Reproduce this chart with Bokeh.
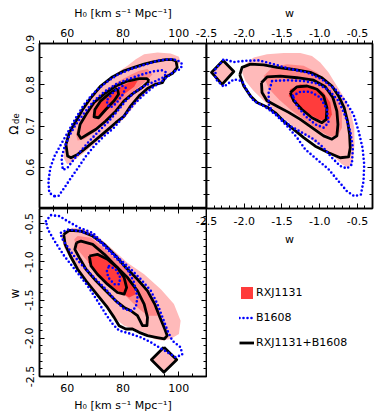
from math import pi
from bokeh.plotting import figure
from bokeh.models import (Range1d, LinearAxis, FixedTicker, Label, Legend, LegendItem,
                          PrintfTickFormatter, BasicTickFormatter)
from bokeh.layouts import row, column
from bokeh.embed import file_html
from bokeh.resources import INLINE

FONT = "DejaVu Sans"
RED_FILLS = ["#FFBABA", "#FF8787", "#FF3C3C"]
BLUE = "#0000FF"

# ---------------- axes ----------------
H0_RANGE = (50, 110)
OM_RANGE = (0.5, 0.9)
W_RANGE = (-2.5, -0.3)
H0_TICKS = [60, 80, 100]
H0_MINOR = [50, 55, 65, 70, 75, 85, 90, 95, 105, 110]
OM_TICKS = [0.6, 0.7, 0.8, 0.9]
OM_MINOR = [0.5, 0.5333, 0.5667, 0.6333, 0.6667, 0.7333, 0.7667, 0.8333, 0.8667]
W_TICKS = [-2.5, -2.0, -1.5, -1.0, -0.5]
W_MINOR = [-2.4, -2.3, -2.2, -2.1, -1.9, -1.8, -1.7, -1.6, -1.4, -1.3, -1.2, -1.1,
           -0.9, -0.8, -0.7, -0.6, -0.4, -0.3]
H0_TITLE = "H\u2080 [km s\u207b\u00b9 Mpc\u207b\u00b9]"
OM_TITLE = "\u03a9"
OM_TITLE_SUB = "de"
W_TITLE = "w"
LEGEND_LABELS = ["RXJ1131", "B1608", "RXJ1131+B1608"]

# ---------------- H0 vs Omega_de (top left) ----------------
TL_RED_OUTER = [(87.6, 0.874), (92.4, 0.878), (97.1, 0.876), (100.1, 0.868), (100.7, 0.854), (98.9, 0.842),
                (95.9, 0.817), (92.4, 0.800), (89.4, 0.787), (86.4, 0.767), (83.4, 0.743), (80.6, 0.719),
                (77.4, 0.702), (73.5, 0.678), (69.9, 0.657), (66.7, 0.639), (63.7, 0.623), (61.3, 0.611),
                (59.9, 0.607), (58.7, 0.623), (58.9, 0.655), (60.1, 0.680), (61.9, 0.704), (64.3, 0.732),
                (67.3, 0.761), (70.8, 0.789), (74.4, 0.809), (78.0, 0.830), (81.6, 0.846), (84.6, 0.862)]
TL_RED_MID = [(88.8, 0.838), (90.6, 0.825), (87.6, 0.805), (84.0, 0.785), (80.4, 0.761), (76.8, 0.732),
              (73.3, 0.704), (69.6, 0.684), (66.1, 0.668), (63.7, 0.665), (63.1, 0.680), (64.3, 0.708),
              (67.3, 0.740), (70.8, 0.769), (74.4, 0.791), (78.6, 0.809), (82.8, 0.824), (85.8, 0.834)]
TL_RED_IN = [(85.2, 0.809), (84.0, 0.795), (80.4, 0.777), (76.8, 0.753), (73.3, 0.732), (70.3, 0.720),
             (69.1, 0.728), (70.3, 0.749), (73.3, 0.769), (76.8, 0.787), (80.4, 0.800), (83.4, 0.809)]
TL_BLACK_OUTER = [(99.0, 0.858), (99.5, 0.842), (97.7, 0.827), (95.3, 0.819), (94.1, 0.805), (91.7, 0.801),
                  (88.8, 0.791), (85.8, 0.773), (82.8, 0.749), (80.4, 0.724), (77.4, 0.708), (73.3, 0.684),
                  (69.6, 0.663), (66.7, 0.647), (63.7, 0.631), (61.3, 0.623), (60.1, 0.627), (59.5, 0.655),
                  (60.7, 0.684), (63.1, 0.712), (65.5, 0.740), (68.5, 0.769), (72.0, 0.797), (76.2, 0.819),
                  (80.4, 0.834), (84.0, 0.842), (87.6, 0.850), (91.2, 0.856), (95.3, 0.861), (97.7, 0.861)]
TL_BLACK_MID = [(89.4, 0.809), (87.0, 0.794), (83.4, 0.778), (80.4, 0.761), (77.4, 0.736), (73.8, 0.712),
                (70.3, 0.692), (67.3, 0.680), (64.9, 0.670), (63.9, 0.680), (64.6, 0.704), (66.7, 0.728),
                (69.6, 0.757), (73.3, 0.778), (77.4, 0.797), (81.6, 0.809), (85.8, 0.815), (88.6, 0.815)]
TL_BLACK_IN = [(78.0, 0.791), (78.4, 0.777), (76.8, 0.761), (73.8, 0.740), (71.2, 0.720), (69.6, 0.722),
               (69.9, 0.740), (72.0, 0.761), (75.0, 0.778), (77.8, 0.790)]
TL_BLUE_OUTER = [(55.3, 0.530), (53.5, 0.538), (53.2, 0.566), (53.9, 0.599), (55.4, 0.627), (57.7, 0.655),
                 (60.1, 0.684), (63.1, 0.720), (66.1, 0.753), (69.6, 0.781), (73.8, 0.805), (78.0, 0.824),
                 (82.8, 0.838), (87.6, 0.848), (92.4, 0.858), (96.5, 0.862), (99.5, 0.860), (101.3, 0.850),
                 (100.7, 0.838), (98.3, 0.832), (94.1, 0.809), (90.6, 0.793), (87.0, 0.773), (84.0, 0.753),
                 (80.4, 0.724), (76.8, 0.696), (73.3, 0.676), (69.6, 0.651), (66.7, 0.627), (64.3, 0.603),
                 (61.3, 0.574), (58.9, 0.550), (56.8, 0.530)]
TL_BLUE_MID = [(58.3, 0.599), (57.9, 0.623), (58.9, 0.647), (60.7, 0.676), (63.1, 0.704), (66.1, 0.732),
               (69.6, 0.761), (73.3, 0.783), (77.4, 0.801), (81.6, 0.813), (86.4, 0.824), (90.6, 0.832),
               (94.1, 0.835), (95.6, 0.830), (94.8, 0.819), (91.8, 0.809), (87.6, 0.797), (84.0, 0.781),
               (81.0, 0.761), (78.0, 0.736), (74.4, 0.708), (70.8, 0.684), (67.3, 0.659), (64.3, 0.635),
               (61.9, 0.615), (60.1, 0.599), (58.9, 0.595)]
TL_BLUE_IN = [(74.5, 0.765), (77.0, 0.785), (79.8, 0.797), (81.0, 0.793), (79.8, 0.775), (77.6, 0.755),
              (75.6, 0.745), (74.2, 0.752)]

# ---------------- w vs Omega_de (top right) ----------------
TR_RED_OUTER = [(-2.028, 0.830), (-1.984, 0.850), (-1.874, 0.866), (-1.698, 0.874), (-1.477, 0.877),
                (-1.257, 0.877), (-1.102, 0.870), (-0.992, 0.854), (-0.882, 0.830), (-0.772, 0.797),
                (-0.661, 0.765), (-0.586, 0.732), (-0.542, 0.696), (-0.538, 0.655), (-0.560, 0.615),
                (-0.617, 0.599), (-0.705, 0.607), (-0.816, 0.627), (-0.970, 0.647), (-1.124, 0.668),
                (-1.279, 0.688), (-1.433, 0.712), (-1.587, 0.736), (-1.742, 0.761), (-1.874, 0.785),
                (-1.984, 0.809)]
TR_RED_ISLAND = [(-2.280, 0.859), (-2.138, 0.832), (-2.293, 0.801), (-2.434, 0.830)]
TR_RED_MID = [(-1.742, 0.821), (-1.631, 0.842), (-1.433, 0.850), (-1.213, 0.846), (-1.036, 0.830),
              (-0.882, 0.801), (-0.772, 0.769), (-0.705, 0.732), (-0.705, 0.696), (-0.772, 0.672),
              (-0.882, 0.676), (-1.036, 0.692), (-1.213, 0.716), (-1.389, 0.740), (-1.543, 0.765),
              (-1.676, 0.791)]
TR_RED_IN = [(-1.389, 0.789), (-1.257, 0.801), (-1.080, 0.797), (-0.948, 0.781), (-0.860, 0.757),
             (-0.838, 0.728), (-0.882, 0.712), (-1.014, 0.716), (-1.168, 0.732), (-1.301, 0.753),
             (-1.411, 0.773)]
TR_BLACK_OUTER = [(-2.059, 0.824), (-2.028, 0.842), (-1.918, 0.850), (-1.742, 0.848), (-1.565, 0.842),
                  (-1.345, 0.837), (-1.124, 0.830), (-0.970, 0.817), (-0.838, 0.797), (-0.750, 0.773),
                  (-0.675, 0.744), (-0.631, 0.712), (-0.604, 0.680), (-0.595, 0.647), (-0.617, 0.625),
                  (-0.728, 0.623), (-0.882, 0.635), (-1.058, 0.651), (-1.212, 0.672), (-1.345, 0.692),
                  (-1.477, 0.712), (-1.587, 0.732), (-1.698, 0.746), (-1.830, 0.757), (-1.918, 0.773),
                  (-2.006, 0.797)]
TR_BLACK_ISLAND = [(-2.280, 0.859), (-2.138, 0.832), (-2.293, 0.801), (-2.434, 0.830)]
TR_BLACK_MID = [(-1.772, 0.805), (-1.698, 0.819), (-1.521, 0.821), (-1.301, 0.817), (-1.080, 0.811),
                (-0.926, 0.795), (-0.825, 0.769), (-0.772, 0.736), (-0.758, 0.704), (-0.772, 0.676),
                (-0.838, 0.668), (-0.948, 0.676), (-1.102, 0.696), (-1.257, 0.716), (-1.411, 0.733),
                (-1.565, 0.748), (-1.698, 0.761), (-1.764, 0.781)]
TR_BLACK_IN = [(-1.389, 0.781), (-1.301, 0.795), (-1.168, 0.797), (-1.036, 0.789), (-0.948, 0.773),
               (-0.904, 0.744), (-0.913, 0.716), (-0.970, 0.708), (-1.102, 0.720), (-1.235, 0.740),
               (-1.345, 0.761)]
TR_BLUE_OUTER = [(-2.381, 0.838), (-2.271, 0.862), (-2.138, 0.855), (-1.984, 0.858), (-1.808, 0.859),
                 (-1.609, 0.850), (-1.389, 0.838), (-1.168, 0.830), (-0.970, 0.813), (-0.794, 0.789),
                 (-0.661, 0.761), (-0.551, 0.728), (-0.485, 0.688), (-0.432, 0.647), (-0.410, 0.607),
                 (-0.419, 0.566), (-0.454, 0.534), (-0.542, 0.530), (-0.639, 0.542), (-0.750, 0.566),
                 (-0.882, 0.595), (-1.036, 0.619), (-1.190, 0.643), (-1.301, 0.672), (-1.433, 0.700),
                 (-1.587, 0.728), (-1.720, 0.746), (-1.874, 0.761), (-1.962, 0.785), (-2.028, 0.809),
                 (-2.138, 0.813), (-2.271, 0.795), (-2.381, 0.814)]
TR_BLUE_MID = [(-1.631, 0.809), (-1.433, 0.811), (-1.213, 0.809), (-1.036, 0.803), (-0.882, 0.787),
               (-0.750, 0.761), (-0.661, 0.724), (-0.595, 0.688), (-0.560, 0.647), (-0.573, 0.607),
               (-0.639, 0.597), (-0.728, 0.603), (-0.838, 0.623), (-0.948, 0.647), (-1.080, 0.668),
               (-1.235, 0.684), (-1.389, 0.700), (-1.521, 0.720), (-1.631, 0.736), (-1.676, 0.753),
               (-1.676, 0.781)]
TR_BLUE_IN = [(-1.354, 0.773), (-1.257, 0.783), (-1.124, 0.783), (-0.992, 0.769), (-0.904, 0.740),
              (-0.882, 0.708), (-0.948, 0.696), (-1.058, 0.704), (-1.190, 0.724), (-1.301, 0.749)]

# ---------------- H0 vs w (bottom left) ----------------
BL_RED_OUTER = [(58.3, -0.618), (61.9, -0.553), (66.1, -0.574), (70.8, -0.661), (75.6, -0.813), (81.6, -1.009),
                (87.6, -1.161), (93.6, -1.357), (98.3, -1.552), (100.7, -1.770), (100.1, -1.943),
                (97.1, -2.008), (94.1, -2.030), (91.2, -2.008), (87.6, -1.922), (84.0, -1.878),
                (80.4, -1.835), (76.8, -1.726), (73.3, -1.552), (69.6, -1.378), (66.1, -1.204),
                (61.9, -1.009), (58.9, -0.813), (57.9, -0.683)]
BL_RED_ISLAND = [(94.7, -2.116), (99.3, -2.282), (94.7, -2.443), (90.2, -2.282)]
BL_RED_MID = [(63.7, -0.661), (68.5, -0.683), (74.4, -0.857), (80.4, -1.074), (86.4, -1.270), (90.6, -1.465),
              (92.4, -1.639), (92.4, -1.704), (88.8, -1.704), (85.2, -1.596), (80.4, -1.422), (75.6, -1.291),
              (70.8, -1.139), (66.1, -0.943), (63.1, -0.813), (62.5, -0.704)]
BL_RED_IN = [(67.9, -0.922), (70.8, -0.900), (75.6, -1.009), (80.4, -1.161), (84.0, -1.313), (84.6, -1.422),
             (82.2, -1.465), (78.0, -1.378), (73.3, -1.248), (69.6, -1.113), (67.5, -1.004)]
BL_BLACK_OUTER = [(58.7, -0.639), (60.7, -0.587), (64.9, -0.596), (69.1, -0.661), (73.3, -0.770),
                  (77.4, -0.922), (81.0, -1.074), (85.2, -1.226), (88.8, -1.378), (91.4, -1.552),
                  (93.3, -1.726), (95.0, -1.878), (95.9, -1.965), (94.8, -2.008), (91.8, -1.987),
                  (88.8, -1.965), (85.8, -1.922), (83.4, -1.878), (81.0, -1.878), (78.6, -1.835),
                  (76.8, -1.726), (74.4, -1.596), (72.0, -1.487), (69.6, -1.378), (66.7, -1.248),
                  (63.7, -1.096), (61.1, -0.922), (59.2, -0.770)]
BL_BLACK_ISLAND = [(94.7, -2.116), (99.3, -2.282), (94.7, -2.443), (90.2, -2.282)]
BL_BLACK_MID = [(63.3, -0.748), (64.9, -0.726), (69.1, -0.770), (73.3, -0.900), (77.4, -1.052), (81.6, -1.204),
                (85.2, -1.378), (87.6, -1.552), (88.8, -1.726), (88.6, -1.835), (87.0, -1.835), (85.2, -1.704),
                (82.8, -1.639), (80.4, -1.596), (77.4, -1.509), (73.8, -1.378), (70.3, -1.248), (66.7, -1.096),
                (64.3, -0.943), (62.7, -0.835)]
BL_BLACK_IN = [(67.9, -0.922), (70.8, -0.900), (74.4, -0.965), (78.0, -1.074), (80.4, -1.204), (81.3, -1.335),
               (80.4, -1.422), (78.0, -1.400), (74.4, -1.291), (70.8, -1.161), (68.5, -1.052)]
BL_BLUE_OUTER = [(52.3, -0.466), (54.1, -0.387), (57.1, -0.400), (60.1, -0.466), (64.3, -0.553), (69.1, -0.618),
                 (72.6, -0.748), (76.8, -0.900), (81.6, -1.052), (86.4, -1.226), (90.0, -1.378), (92.4, -1.552),
                 (94.2, -1.726), (96.0, -1.900), (97.7, -2.030), (100.7, -2.117), (101.3, -2.213),
                 (98.9, -2.248), (95.9, -2.182), (92.9, -2.117), (90.0, -2.052), (86.4, -1.987),
                 (82.2, -1.935), (78.6, -1.900), (76.3, -1.813), (73.8, -1.683), (70.8, -1.509),
                 (67.3, -1.313), (63.1, -1.117), (58.9, -0.922), (55.4, -0.726), (53.0, -0.574)]
BL_BLUE_MID = [(57.7, -0.618), (60.1, -0.574), (64.3, -0.596), (68.5, -0.639), (72.0, -0.748), (76.8, -0.922),
               (81.6, -1.096), (84.0, -1.270), (85.2, -1.465), (84.6, -1.596), (82.8, -1.639), (80.4, -1.617),
               (77.4, -1.509), (73.8, -1.357), (69.6, -1.204), (65.5, -1.052), (61.9, -0.900), (59.5, -0.770),
               (57.9, -0.683)]
BL_BLUE_IN = [(75.0, -1.052), (77.4, -1.096), (79.0, -1.204), (78.6, -1.291), (76.8, -1.291), (74.7, -1.204),
              (74.2, -1.117)]


def base(width, height, xr, yr, left, right, top, bottom, **kw):
    p = figure(width=width, height=height, x_range=Range1d(*xr), y_range=Range1d(*yr),
               x_axis_location=None, y_axis_location=None, toolbar_location=None,
               output_backend="svg", min_border_left=left, min_border_right=right,
               min_border_top=top, min_border_bottom=bottom, **kw)
    p.grid.visible = False
    p.outline_line_color = "black"
    p.outline_line_width = 1.5
    p.background_fill_color = "white"
    return p


def blank(width, height, **kw):
    p = figure(width=width, height=height, x_range=Range1d(0, width), y_range=Range1d(0, height),
               x_axis_location=None, y_axis_location=None, toolbar_location=None,
               output_backend="svg", min_border=0, **kw)
    p.grid.visible = False
    p.outline_line_color = None
    p.background_fill_color = None
    p.border_fill_color = None
    return p


def axis(p, side, ticks, minor, show=True, title=None, outward=False, standoff=5,
         title_standoff=4, orient=None, fmt=None):
    ax = LinearAxis(ticker=FixedTicker(ticks=ticks, minor_ticks=minor),
                    formatter=PrintfTickFormatter(format=fmt) if fmt else BasicTickFormatter())
    ax.axis_line_color = "black"
    ax.axis_line_width = 1.5
    ax.major_tick_line_color = "black"
    ax.minor_tick_line_color = "black"
    ax.major_tick_line_width = 1
    ax.minor_tick_line_width = 1
    if outward:
        ax.major_tick_in, ax.major_tick_out, ax.minor_tick_in, ax.minor_tick_out = 0, 5, 0, 3
    else:
        ax.major_tick_in, ax.major_tick_out, ax.minor_tick_in, ax.minor_tick_out = 5, 0, 3, 0
    if show:
        ax.major_label_text_font = FONT
        ax.major_label_text_font_size = "11px"
        ax.major_label_text_color = "black"
        ax.major_label_standoff = standoff
    else:
        ax.major_label_text_font_size = "0px"
        ax.major_label_text_color = None
        ax.major_label_standoff = 0
    if orient is not None:
        ax.major_label_orientation = orient
    if title:
        ax.axis_label = title
        ax.axis_label_text_font = FONT
        ax.axis_label_text_font_size = "11px"
        ax.axis_label_text_font_style = "normal"
        ax.axis_label_text_color = "black"
        ax.axis_label_standoff = title_standoff
    p.add_layout(ax, side)


def closed(polys):
    xs = [[q[0] for q in c] + [c[0][0]] for c in polys]
    ys = [[q[1] for q in c] + [c[0][1]] for c in polys]
    return xs, ys


def draw(p, red_levels, blacks, blues):
    red_r = []
    for polys, col in zip(red_levels, RED_FILLS):
        xs = [[q[0] for q in c] for c in polys]
        ys = [[q[1] for q in c] for c in polys]
        red_r.append(p.patches(xs, ys, fill_color=col, line_color=None))
    bx, by = closed(blacks)
    black_r = p.multi_line(bx, by, line_color="black", line_width=2.8, line_join="round")
    ux, uy = closed(blues)
    blue_r = p.multi_line(ux, uy, line_color=BLUE, line_width=2.6, line_dash="0 4",
                          line_cap="round")
    return red_r, blue_r, black_r


def text_label(p, x, y, text, size, align):
    p.add_layout(Label(x=x, y=y, text=text, angle=pi / 2, text_align=align,
                       text_baseline="alphabetic", text_font=FONT, text_font_size=size,
                       text_color="black"))


# ---- left strip carrying the rotated y titles
f0 = blank(20, 417)
text_label(f0, 13.5, 292, OM_TITLE, "12px", "right")
text_label(f0, 15, 293.5, OM_TITLE_SUB, "8.5px", "left")
text_label(f0, 14, 124, W_TITLE, "12px", "center")

# ---- top left: H0 vs Omega_de
f1 = base(187, 208, H0_RANGE, OM_RANGE, 19, 1, 43, 0)
axis(f1, "above", H0_TICKS, H0_MINOR, title=H0_TITLE, outward=True, standoff=2, title_standoff=6)
axis(f1, "left", OM_TICKS, OM_MINOR, standoff=6, orient="parallel")
axis(f1, "below", H0_TICKS, H0_MINOR, show=False)
axis(f1, "right", OM_TICKS, OM_MINOR, show=False)
draw(f1, [[TL_RED_OUTER], [TL_RED_MID], [TL_RED_IN]], [TL_BLACK_OUTER, TL_BLACK_MID, TL_BLACK_IN],
     [TL_BLUE_OUTER, TL_BLUE_MID, TL_BLUE_IN])

# ---- bottom left: H0 vs w
f3 = base(187, 209, H0_RANGE, W_RANGE, 19, 1, 0, 41)
axis(f3, "below", H0_TICKS, H0_MINOR, title=H0_TITLE, standoff=7, title_standoff=4)
axis(f3, "left", W_TICKS, W_MINOR, standoff=6, orient="parallel", fmt="%.1f")
axis(f3, "above", H0_TICKS, H0_MINOR, show=False)
axis(f3, "right", W_TICKS, W_MINOR, show=False)
draw(f3, [[BL_RED_OUTER, BL_RED_ISLAND], [BL_RED_MID], [BL_RED_IN]],
     [BL_BLACK_OUTER, BL_BLACK_MID, BL_BLACK_IN, BL_BLACK_ISLAND],
     [BL_BLUE_OUTER, BL_BLUE_MID, BL_BLUE_IN])

# ---- top right: w vs Omega_de
f2 = base(182, 250, W_RANGE, OM_RANGE, 14, 2, 43, 42)
f2.border_fill_color = None
axis(f2, "above", W_TICKS, W_MINOR, title=W_TITLE, outward=True, standoff=2, title_standoff=6, fmt="%.1f")
axis(f2, "below", W_TICKS, W_MINOR, title=W_TITLE, standoff=8, title_standoff=5, fmt="%.1f")
axis(f2, "left", OM_TICKS, OM_MINOR, show=False)
axis(f2, "right", OM_TICKS, OM_MINOR, show=False)
draw(f2, [[TR_RED_OUTER, TR_RED_ISLAND], [TR_RED_MID], [TR_RED_IN]],
     [TR_BLACK_OUTER, TR_BLACK_MID, TR_BLACK_IN, TR_BLACK_ISLAND],
     [TR_BLUE_OUTER, TR_BLUE_MID, TR_BLUE_IN])

# ---- legend area (bottom right); the sample marks sit outside the visible range
f4 = blank(182, 167)
leg_red = f4.patch([-60, -50, -50], [-60, -60, -50], fill_color=RED_FILLS[2], line_color=None)
leg_blue = f4.multi_line([[-60, -50]], [[-60, -60]], line_color=BLUE, line_width=2.6,
                         line_dash="0 4", line_cap="round")
leg_black = f4.multi_line([[-60, -50]], [[-60, -60]], line_color="black", line_width=2.8)
legend = Legend(items=[LegendItem(label=LEGEND_LABELS[0], renderers=[leg_red]),
                       LegendItem(label=LEGEND_LABELS[1], renderers=[leg_blue]),
                       LegendItem(label=LEGEND_LABELS[2], renderers=[leg_black])],
                location=(33, 67))
legend.glyph_width = 15
legend.glyph_height = 15
legend.label_height = 15
legend.spacing = 10
legend.padding = 0
legend.margin = 0
legend.border_line_color = None
legend.background_fill_alpha = 0
legend.label_text_font = FONT
legend.label_text_font_size = "11px"
legend.label_text_color = "black"
legend.label_standoff = 2
f4.add_layout(legend)

layout = row(f0, column(f1, f3), column(f2, f4, margin=(0, 0, 0, -15)))

with open("out.html", "w") as fh:
    fh.write(file_html(layout, INLINE))
